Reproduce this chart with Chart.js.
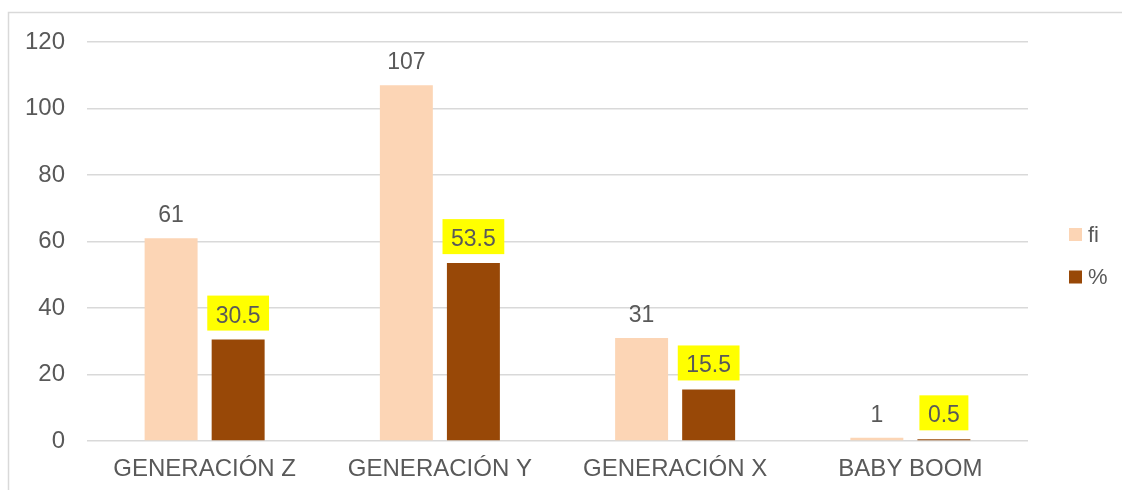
<!DOCTYPE html>
<html>
<head>
<meta charset="utf-8">
<script src="https://cdn.jsdelivr.net/npm/chart.js@4.4.1/dist/chart.umd.min.js"></script>
<style>
  html, body { margin: 0; padding: 0; background: #ffffff; }
  #wrap { width: 1122px; height: 490px; position: relative; }
</style>
</head>
<body>
<div id="wrap"><canvas id="c" width="1122" height="490"></canvas></div>
<script>
// Generational groups and their counts / percentages
const categories = ['GENERACIÓN Z', 'GENERACIÓN Y', 'GENERACIÓN X', 'BABY BOOM'];
const fiValues = [61, 107, 31, 1];
const pctValues = [30.5, 53.5, 15.5, 0.5];
const seriesLabels = ['fi', '%'];
const yTicks = [0, 20, 40, 60, 80, 100, 120];

const TEXT = '#595959';
const GRID = '#d9d9d9';
const FONT = 'Liberation Sans, Arial, sans-serif';

// Frame line along the top and left edges
const framePlugin = {
  id: 'frame',
  beforeDraw(chart) {
    const ctx = chart.ctx;
    ctx.save();
    ctx.fillStyle = '#ffffff';
    ctx.fillRect(0, 0, chart.width, chart.height);
    ctx.strokeStyle = GRID;
    ctx.lineWidth = 1.5;
    ctx.beginPath();
    ctx.moveTo(8.5, chart.height + 2);
    ctx.lineTo(8.5, 12.5);
    ctx.lineTo(chart.width + 2, 12.5);
    ctx.stroke();
    ctx.restore();
  }
};

// Value labels above each bar; the percentage series gets a yellow box
const valueLabelPlugin = {
  id: 'valueLabels',
  afterDatasetsDraw(chart) {
    const ctx = chart.ctx;
    ctx.save();
    ctx.font = '23px ' + FONT;
    ctx.textAlign = 'center';
    ctx.textBaseline = 'alphabetic';
    chart.data.datasets.forEach((ds, di) => {
      const meta = chart.getDatasetMeta(di);
      meta.data.forEach((bar, i) => {
        const txt = String(ds.data[i]);
        const top = bar.y;
        if (di === 1) {
          const w = ctx.measureText(txt).width + 17;
          const base = top - 17;
          ctx.fillStyle = '#ffff00';
          ctx.fillRect(bar.x - w / 2, base - 27, w, 35);
          ctx.fillStyle = TEXT;
          ctx.fillText(txt, bar.x, base);
        } else {
          ctx.fillStyle = TEXT;
          ctx.fillText(txt, bar.x, top - 16);
        }
      });
    });
    ctx.restore();
  }
};

// Legend on the right side, centred vertically on the plot
const sideLegendPlugin = {
  id: 'sideLegend',
  afterDraw(chart) {
    const ctx = chart.ctx;
    ctx.save();
    ctx.font = '22px ' + FONT;
    ctx.textBaseline = 'middle';
    ctx.textAlign = 'left';
    const x = 1069;
    const ys = [234.5, 277];
    chart.data.datasets.forEach((ds, di) => {
      ctx.fillStyle = ds.backgroundColor;
      ctx.fillRect(x, ys[di] - 6.5, 13, 13);
      ctx.fillStyle = TEXT;
      ctx.fillText(ds.label, x + 19, ys[di] + 1);
    });
    ctx.restore();
  }
};

new Chart(document.getElementById('c'), {
  type: 'bar',
  data: {
    labels: categories,
    datasets: [
      { label: seriesLabels[0], data: fiValues, backgroundColor: '#fcd5b5' },
      { label: seriesLabels[1], data: pctValues, backgroundColor: '#984807' }
    ]
  },
  options: {
    responsive: false,
    animation: false,
    devicePixelRatio: 1,
    layout: { padding: { left: 0, right: 94, top: 42, bottom: 0 } },
    datasets: {
      bar: { categoryPercentage: 0.57, barPercentage: 0.79 }
    },
    plugins: {
      legend: { display: false },
      tooltip: { enabled: false }
    },
    scales: {
      x: {
        grid: { display: false, drawTicks: false },
        border: { display: false },
        ticks: { color: TEXT, font: { family: FONT, size: 24 }, padding: 14, maxRotation: 0 },
        afterFit(scale) { scale.height = 49; }
      },
      y: {
        min: 0,
        max: 120,
        afterBuildTicks(scale) { scale.ticks = yTicks.map(v => ({ value: v })); },
        grid: { color: GRID, lineWidth: 1.5, drawTicks: false },
        border: { display: false },
        ticks: { color: TEXT, font: { family: FONT, size: 24 }, padding: 22 },
        afterFit(scale) { scale.width = 87; }
      }
    }
  },
  plugins: [framePlugin, valueLabelPlugin, sideLegendPlugin]
});
</script>
</body>
</html>
